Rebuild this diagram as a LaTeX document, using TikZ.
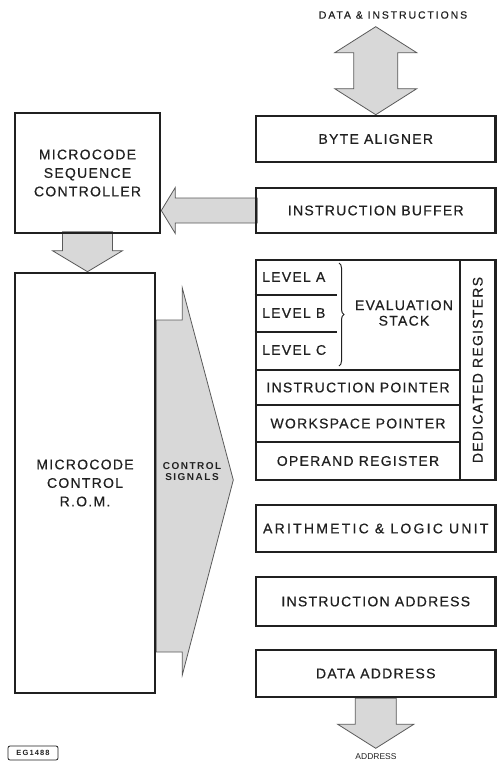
\documentclass[tikz,border=0pt]{standalone}
\usepackage{fontspec}
\setmainfont{Liberation Sans}
\newfontfamily\blkfamily[LetterSpace=9,FakeBold=0.6]{Liberation Sans}
\newfontfamily\tagfamily[LetterSpace=18,FakeBold=0.4]{Liberation Sans}
\newfontfamily\sigfamily[LetterSpace=15]{Liberation Sans}
\usetikzlibrary{positioning,backgrounds,decorations.pathreplacing}
\definecolor{ink}{RGB}{32,32,32}
\definecolor{shade}{RGB}{216,216,216}
\definecolor{rim}{RGB}{90,90,90}
\tikzset{
  blk/.style={draw=ink,line width=2.6pt,inner sep=0pt,align=center,text=ink,font=\blkfamily\fontsize{14}{18.5}\selectfont},
  txt/.style={inner sep=0pt,align=center,text=ink,font=\blkfamily\fontsize{14}{15.5}\selectfont},
  lvl/.style={txt,anchor=west},
  sep/.style={draw=ink,line width=2.6pt},
  fat/.style={fill=shade,draw=rim,line width=0.8pt,line join=miter},
  tag/.style={text=ink,inner sep=0pt,font=\tagfamily\fontsize{10.5}{12}\selectfont},
  sig/.style={align=center,inner sep=0pt,text=ink,font=\sigfamily\bfseries\fontsize{10}{11}\selectfont},
  plate/.style={draw=ink,rounded corners=2pt,line width=0.8pt,inner sep=0pt,minimum width=50pt,minimum height=14pt,text=ink,font=\sigfamily\bfseries\fontsize{7.5}{8}\selectfont}
}

\begin{document}
\begin{tikzpicture}[x=1pt,y=-1pt]
  \useasboundingbox (0,0) rectangle (499,763);
  % right column
  \node[blk,minimum width=239.5pt,minimum height=46pt] (ba) at (375.75,139) {BYTE ALIGNER};
  \node[blk,minimum width=239.5pt,minimum height=45pt] (ib) at (375.75,210.5) {INSTRUCTION BUFFER};
  \node[blk,minimum width=204pt,minimum height=110pt] (evs) at (358,315) {};
  \node[blk,minimum width=204pt,minimum height=35pt] (ip) at (358,387.5) {INSTRUCTION POINTER};
  \node[blk,minimum width=204pt,minimum height=37pt] (wp) at (358,423.5) {WORKSPACE POINTER};
  \node[blk,minimum width=204pt,minimum height=38pt] (opr) at (358,461) {OPERAND REGISTER};
  \node[blk,rotate=90,minimum width=220pt,minimum height=35.5pt] (dreg) at (477.75,370) {DEDICATED REGISTERS};
  \node[blk,minimum width=239.5pt,minimum height=47pt] (alu) at (375.75,528.5) {\addfontfeature{LetterSpace=16}ARITHMETIC \& LOGIC UNIT};
  \node[blk,minimum width=239.5pt,minimum height=49pt] (ia) at (375.75,601.5) {INSTRUCTION ADDRESS};
  \node[blk,minimum width=239.5pt,minimum height=47pt] (da) at (375.75,673.5) {DATA ADDRESS};

  % evaluation stack
  \draw[sep] (evs.west |- 0,295) -- (337,295);
  \draw[sep] (evs.west |- 0,332) -- (337,332);
  \node[lvl] (lva) at (262,277) {LEVEL A};
  \node[lvl] (lvb) at (262,313) {LEVEL B};
  \node[lvl] (lvc) at (262,350) {LEVEL C};
  \draw[ink,line width=1pt,decorate,decoration={brace,amplitude=5pt}] (339,263) -- (339,366);
  \node[txt] (evl) at (404,313) {EVALUATION\\STACK};

  % left column
  \node[blk,minimum width=145pt,minimum height=120pt] (msc) at (87.5,173) {MICROCODE\\SEQUENCE\\CONTROLLER};
  \node[blk,minimum width=140pt,minimum height=420pt] (rom) at (85,483) {MICROCODE\\CONTROL\\R.O.M.};

  \begin{scope}[on background layer]
    \draw[fat] (ba.north) -- +(41,-26) -- +(22,-26) -- +(22,-62) -- +(41,-62) -- +(0,-88)
      -- +(-41,-62) -- +(-22,-62) -- +(-22,-26) -- +(-41,-26) -- cycle;
    \draw[fat] (msc.east |- ib.west) -- +(14,-23) -- +(14,-12.5) -- +(96,-12.5) -- +(96,12.5)
      -- +(14,12.5) -- +(14,23) -- cycle;
    \draw[fat] (msc.south |- rom.north) -- +(35,-21) -- +(25,-21) -- +(25,-40) -- +(-25,-40)
      -- +(-25,-21) -- +(-35,-21) -- cycle;
    \draw[fat] (rom.east) ++(0,-163) -- +(26,0) -- +(26,-32) -- +(77,160) -- +(26,355)
      -- +(26,332) -- +(0,332) -- cycle;
    \draw[fat] (da.south) ++(-20.5,0) -- +(41,0) -- +(41,26) -- +(58.5,26) -- +(20.5,50)
      -- +(-17.5,26) -- +(0,26) -- cycle;
  \end{scope}

  \node[tag] (di) at (393,15) {DATA \& INSTRUCTIONS};
  \node[sig] (cs) at (192,472) {CONTROL\\SIGNALS};
  \node[text=ink,inner sep=0pt,font=\fontsize{8.5}{10}\selectfont] (adr) at (376,757) {ADDRESS};
  \node[plate] (eg) at (33,753) {EG1488};
\end{tikzpicture}
\end{document}
